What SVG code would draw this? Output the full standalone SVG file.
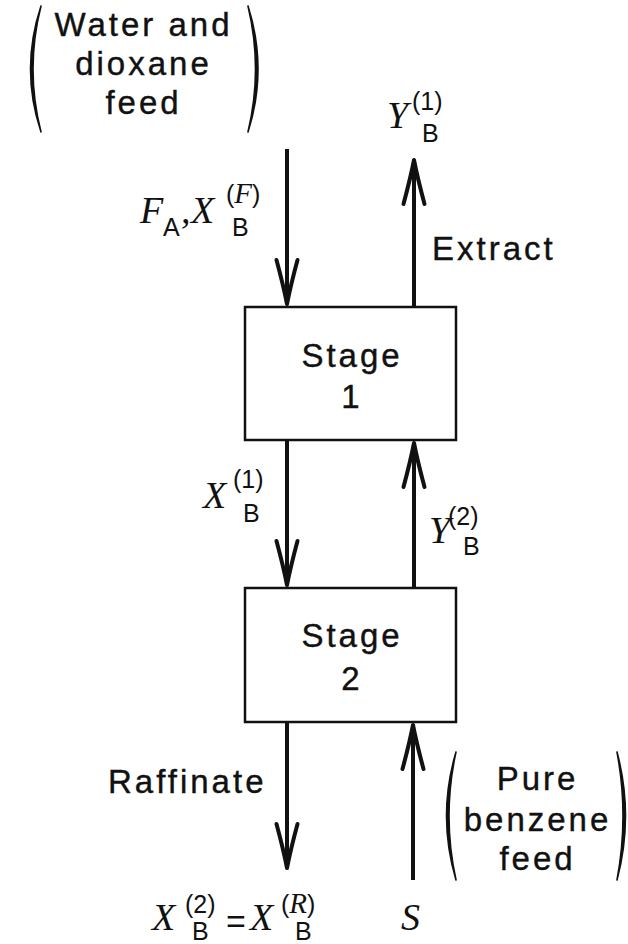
<svg xmlns="http://www.w3.org/2000/svg" width="628" height="944" viewBox="0 0 628 944">
  <style>
    .box { fill: #fff; stroke: #111; stroke-width: 2.5; }
    .flow { fill: none; stroke: #111; stroke-width: 4; marker-end: url(#head); }
    .txt { font-family: "Liberation Sans", Arial, sans-serif; font-size: 33px; letter-spacing: 3px; fill: #111; stroke: #111; stroke-width: 0.4; }
    .mid { text-anchor: middle; }
    .var { font-family: "Liberation Serif", "Times New Roman", serif; font-style: italic; font-size: 38px; fill: #111; }
    .idx { font-family: "Liberation Sans", Arial, sans-serif; font-size: 25px; fill: #111; }
    .sup-var { font-family: "Liberation Serif", "Times New Roman", serif; font-style: italic; font-size: 29px; }
    .eq { font-family: "Liberation Sans", Arial, sans-serif; font-size: 34px; fill: #111; }
    .paren { fill: #111; stroke: #111; stroke-width: 1.6; stroke-linejoin: round; }
  </style>
  <defs>
    <marker id="head" markerUnits="userSpaceOnUse" markerWidth="60" markerHeight="30" viewBox="-50 -15 60 30" refX="0" refY="0" orient="auto" overflow="visible">
      <path d="M-44,-10.5 Q-18,-3.5 0,0 Q-18,3.5 -44,10.5" fill="none" stroke="#111" stroke-width="4" stroke-linejoin="round" stroke-linecap="round"/>
    </marker>
  </defs>
  <rect width="628" height="944" fill="#fff"/>

  <!-- stream lines -->
  <g id="connectors">
    <line class="flow" x1="287" y1="149" x2="287" y2="304"/>
    <line class="flow" x1="414" y1="307" x2="414" y2="160"/>
    <line class="flow" x1="287" y1="440" x2="287" y2="585"/>
    <line class="flow" x1="414" y1="588" x2="414" y2="443"/>
    <line class="flow" x1="287" y1="722" x2="287" y2="868"/>
    <line class="flow" x1="413" y1="880" x2="413" y2="725"/>
  </g>

  <g id="stage1">
    <rect class="box" x="245" y="307" width="211" height="133"/>
    <text class="txt mid" x="352" y="367">Stage</text>
    <text class="txt mid" x="352" y="408">1</text>
  </g>

  <g id="stage2">
    <rect class="box" x="245" y="588" width="211" height="134"/>
    <text class="txt mid" x="352" y="647">Stage</text>
    <text class="txt mid" x="352" y="690">2</text>
  </g>

  <g id="feed">
    <path class="paren" d="M41,6 Q20,69 41,132 Q25,69 41,6 Z"/>
    <path class="paren" d="M248,6 Q268,69 248,132 Q263,69 248,6 Z"/>
    <text class="txt mid" x="143.5" y="36">Water and</text>
    <text class="txt mid" x="143.5" y="75">dioxane</text>
    <text class="txt mid" x="143.5" y="114">feed</text>
  </g>

  <g id="solvent">
    <path class="paren" d="M456,752 Q437,816 456,880 Q442,816 456,752 Z"/>
    <path class="paren" d="M617,752 Q634,816 617,880 Q629,816 617,752 Z"/>
    <text class="txt mid" x="537.5" y="790">Pure</text>
    <text class="txt mid" x="537.5" y="831">benzene</text>
    <text class="txt mid" x="537.5" y="870">feed</text>
  </g>

  <g id="extract-label">
    <text class="txt" x="432" y="260">Extract</text>
    <text class="var" x="387" y="128">Y</text>
    <text class="idx" x="412" y="110">(1)</text>
    <text class="idx" x="422" y="142">B</text>
  </g>

  <g id="feed-stream-label">
    <text class="var" x="140" y="223">F</text>
    <text class="idx" x="163" y="236">A</text>
    <text class="var" x="181" y="223">,</text>
    <text class="var" x="191" y="223">X</text>
    <text class="idx" x="226" y="203">(<tspan class="sup-var">F</tspan>)</text>
    <text class="idx" x="232" y="236">B</text>
  </g>

  <g id="raffinate1-label">
    <text class="var" x="203" y="508">X</text>
    <text class="idx" x="233" y="488">(1)</text>
    <text class="idx" x="243" y="522">B</text>
  </g>

  <g id="extract2-label">
    <text class="var" x="429" y="543">Y</text>
    <text class="idx" x="448" y="525">(2)</text>
    <text class="idx" x="463" y="555">B</text>
  </g>

  <g id="raffinate-label">
    <text class="txt" x="108" y="793">Raffinate</text>
    <text class="var" x="152" y="930">X</text>
    <text class="idx" x="185" y="913">(2)</text>
    <text class="idx" x="192" y="940">B</text>
    <text class="eq" x="226" y="933">=</text>
    <text class="var" x="250" y="930">X</text>
    <text class="idx" x="281" y="913">(<tspan class="sup-var">R</tspan>)</text>
    <text class="idx" x="295" y="940">B</text>
  </g>

  <g id="solvent-label">
    <text class="var" x="401" y="930">S</text>
  </g>
</svg>
